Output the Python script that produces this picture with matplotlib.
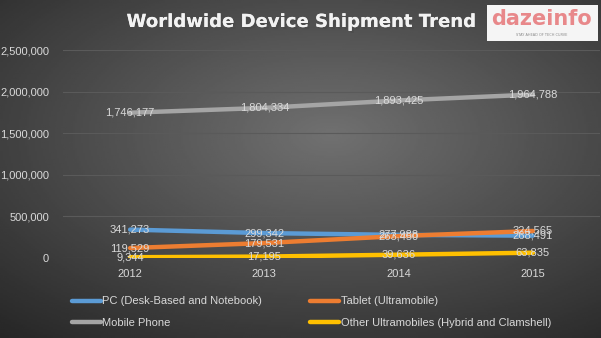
import matplotlib
matplotlib.use("Agg")
import matplotlib.pyplot as plt
import matplotlib.patheffects as pe
from matplotlib.patches import Rectangle
import numpy as np

plt.rcParams['font.family'] = ['Liberation Sans', 'DejaVu Sans']

years = ["2012", "2013", "2014", "2015"]
pc = [341273, 299342, 277988, 268491]
tablet = [119529, 179531, 263450, 324565]
mobile = [1746177, 1804334, 1893425, 1964788]
other = [9344, 17195, 39636, 63835]

series = [
    ("PC (Desk-Based and Notebook)", pc, "#5B9BD5"),
    ("Tablet (Ultramobile)", tablet, "#ED7D31"),
    ("Mobile Phone", mobile, "#A5A5A5"),
    ("Other Ultramobiles (Hybrid and Clamshell)", other, "#FFC000"),
]

fig = plt.figure(figsize=(6.01, 3.38), dpi=100)

# dark radial background
bg = fig.add_axes([0, 0, 1, 1], zorder=-10)
yy, xx = np.mgrid[0:1:200j, 0:1:300j]
r = np.sqrt(((xx - 0.55) / 0.85) ** 2 + ((yy - 0.6) / 0.8) ** 2)
bg.imshow(np.clip(r, 0, 1), cmap="gray_r", vmin=-1.9, vmax=1.5,
          extent=[0, 1, 0, 1], aspect="auto", origin="lower")
bg.axis("off")

ax = fig.add_axes([63 / 601, 1 - 258 / 338, 537 / 601, (258 - 50) / 338])
ax.patch.set_alpha(0)
x = np.arange(len(years))
lines = []
for name, vals, c in series:
    ln, = ax.plot(x, vals, color=c, lw=3.2, label=name, solid_capstyle="round")
    lines.append(ln)
    for xi, v in zip(x, vals):
        ax.text(xi, v, f"{v:,}", ha="center", va="center", fontsize=8,
                color="#d9d9d9")

ax.set_xlim(-0.5, 3.5)
ax.set_ylim(0, 2500000)
ax.set_yticks(np.arange(0, 2500001, 500000))
ax.yaxis.set_major_formatter(matplotlib.ticker.FuncFormatter(lambda v, p: f"{int(v):,}"))
ax.set_xticks(x)
ax.set_xticklabels(years)
ax.tick_params(colors="#d9d9d9", labelsize=8, length=0)
ax.tick_params(axis="y", pad=10)
ax.tick_params(axis="x", pad=8)
ax.grid(axis="y", color="#5a5a5a", lw=0.8)
for s in ax.spines.values():
    s.set_visible(False)
ax.set_axisbelow(True)

order = [0, 2, 1, 3]
fig.legend([lines[i] for i in order], [series[i][0] for i in order],
           loc="upper left", bbox_to_anchor=(0.112, 0.136), ncol=2,
           frameon=False, fontsize=8, labelcolor="#d9d9d9",
           handlelength=2.6, handletextpad=0.15, columnspacing=4.3,
           labelspacing=1.0, borderaxespad=0)

fig.text(0.5, 1 - 22 / 338, "Worldwide Device Shipment Trend", ha="center",
         va="center", fontsize=13, fontweight="bold", color="#f2f2f2",
         family="DejaVu Sans",
         path_effects=[pe.withSimplePatchShadow(offset=(1.5, -1.5), alpha=0.6),
                       pe.Normal()])

# logo
fig.patches.append(Rectangle((487 / 601, 1 - 41 / 338), 111 / 601, 36 / 338,
                             transform=fig.transFigure, facecolor="#f5f5f5",
                             edgecolor="none"))
fig.text(542 / 601, 1 - 19 / 338, "dazeinfo", ha="center", va="center",
         fontsize=15, fontweight="bold", color="#e8888a", family="DejaVu Sans")
fig.text(542 / 601, 1 - 35 / 338, "STAY AHEAD OF TECH CURVE", ha="center",
         va="center", fontsize=2.5, color="#888888", family="DejaVu Sans")

fig.savefig("out.png", dpi=100)
